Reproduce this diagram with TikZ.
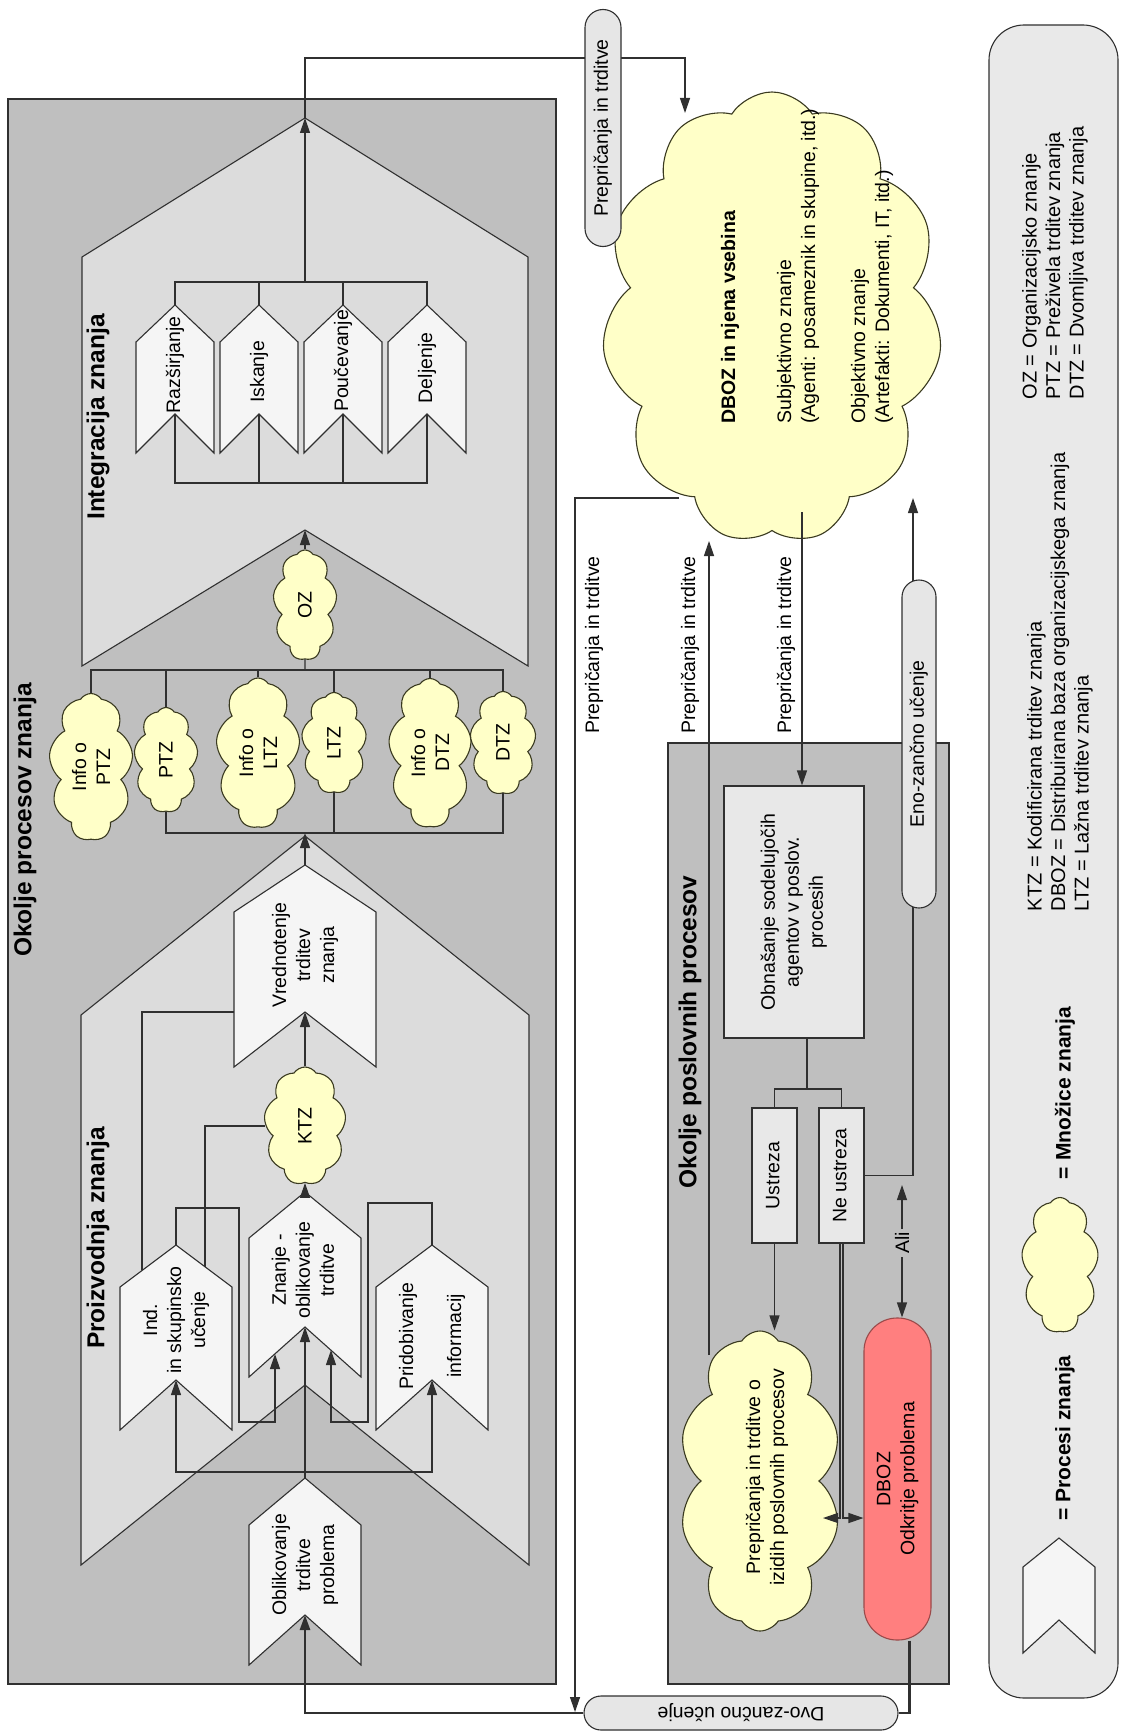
\documentclass[tikz,border=0pt]{standalone}
\usepackage{fontspec}
\setmainfont{Liberation Sans}
\usetikzlibrary{shapes.symbols,arrows.meta,calc}

\definecolor{okgrey}{HTML}{BFBFBF}
\definecolor{chevgrey}{HTML}{DCDCDC}
\definecolor{chevwhite}{HTML}{F5F5F5}
\definecolor{boxlight}{HTML}{E8E8E8}
\definecolor{pillgrey}{HTML}{E6E6E6}
\definecolor{legendgrey}{HTML}{E9E9E9}
\definecolor{cloudfill}{HTML}{FFFFC8}
\definecolor{cloudline}{HTML}{3A3A20}
\definecolor{alarmred}{HTML}{FF7F7F}
\definecolor{alarmline}{HTML}{9A4A4A}
\definecolor{ink}{HTML}{303030}

% rotated multi-line text for box contents
\newcommand{\rtxt}[1]{\rotatebox{90}{\begin{tabular}{@{}c@{}}#1\end{tabular}}}

% chevron: name, style, centre x, half width, y peak, y shoulder, y notch, y bottom
\newcommand{\chev}[8]{%
  \filldraw[#2] ({#3},{#5}) -- ({#3+#4},{#6}) -- ({#3+#4},{#8}) -- ({#3},{#7})
    -- ({#3-#4},{#8}) -- ({#3-#4},{#6}) -- cycle;
  \coordinate (#1-peak) at ({#3},{#5});
  \coordinate (#1-notch) at ({#3},{#7});
}

\tikzset{
  txt/.style={font=\fontsize{19.5}{24}\selectfont, inner sep=0pt},
  rlab/.style={txt, rotate=90, align=center},
  rlabl/.style={txt, rotate=90, align=left},
  bigtitle/.style={rotate=90, inner sep=0pt, font=\fontsize{24.5}{29}\selectfont\bfseries},
  region/.style={fill=okgrey, draw=ink, line width=1.2pt},
  chevbig/.style={fill=chevgrey, draw=ink, line width=1.1pt},
  chevw/.style={fill=chevwhite, draw=ink, line width=1.1pt},
  cloudy/.style={cloud, cloud puffs=#1, cloud puff arc=115, cloud ignores aspect,
    draw=cloudline, fill=cloudfill, line width=1.1pt, inner sep=0pt},
  cloudy/.default=9,
  box/.style={txt, draw=ink, line width=1.2pt, fill=boxlight},
  pill/.style={txt, draw=ink, line width=1.1pt, fill=pillgrey, rounded corners=#1},
  conn/.style={draw=ink, line width=1.2pt},
  arr/.style={conn, -{Triangle[length=15pt,width=10pt]}},
  arrs/.style={conn, {Triangle[length=15pt,width=10pt]}-{Triangle[length=15pt,width=10pt]}},
  heavy/.style={draw=ink, line width=2.6pt},
  heavyarr/.style={heavy, -{Triangle[length=15pt,width=10pt]}},
}

\begin{document}
\begin{tikzpicture}[x=1pt,y=-1pt]
\useasboundingbox (0,0) rectangle (1127,1731);
\fill[white] (0,0) rectangle (1127,1731);

% ---------- regions ----------
\filldraw[region] (8,99) rectangle (556,1684);
\filldraw[region] (668,743) rectangle (949,1684);
\filldraw[fill=legendgrey, draw=ink, line width=1.1pt, rounded corners=35pt] (989,25) rectangle (1118,1698);

% ---------- large chevrons ----------
\chev{integ}{chevbig}{305}{223}{118}{257}{530}{666}
\chev{proiz}{chevbig}{305}{224}{836}{1015}{1385}{1565}

% ---------- integration processes ----------
\chev{raz}{chevw}{175}{39}{305}{342}{414}{453}
\chev{isk}{chevw}{259}{39}{305}{342}{414}{453}
\chev{pou}{chevw}{343}{39}{305}{342}{414}{453}
\chev{del}{chevw}{427}{39}{305}{342}{414}{453}

% ---------- production processes ----------
\chev{vred}{chevw}{305}{71}{865}{912}{1012}{1067}
\chev{ind}{chevw}{176}{56}{1245}{1287}{1380}{1430}
\chev{znan}{chevw}{305}{56}{1192}{1238}{1327}{1377}
\chev{prid}{chevw}{432}{56}{1245}{1287}{1380}{1430}
\chev{oblik}{chevw}{305}{56}{1478}{1525}{1615}{1665}

% ---------- knowledge sets ----------
\node[cloudy, minimum width=64pt, minimum height=110pt] (oz) at (305,605) {};
\node[cloudy, minimum width=84pt, minimum height=147pt] (iptz) at (91,767) {};
\node[cloudy, minimum width=64pt, minimum height=105pt] (ptz) at (166,760) {};
\node[cloudy, minimum width=84pt, minimum height=150pt] (iltz) at (258,753) {};
\node[cloudy, minimum width=65pt, minimum height=101pt] (ltz) at (334,743) {};
\node[cloudy, minimum width=83pt, minimum height=149pt] (idtz) at (430,753) {};
\node[cloudy, minimum width=66pt, minimum height=103pt] (dtz) at (503,743) {};
\node[cloudy, minimum width=82pt, minimum height=118pt] (ktz) at (305,1126) {};
\node[cloudy=11, minimum width=340pt, minimum height=452pt] (dboz) at (772,318) {};
\node[cloudy=10, minimum width=162pt, minimum height=300pt] (prep) at (760,1481) {};
\node[cloudy, minimum width=77pt, minimum height=135pt] (legcloud) at (1060,1265) {};

% ---------- business process boxes ----------
\node[box, minimum width=140pt, minimum height=252pt] (obn) at (794,912)
  {\rtxt{Obnašanje sodelujočih\\agentov v poslov.\\procesih}};
\node[box, minimum width=45pt, minimum height=135pt] (ustr) at (774.5,1175.5) {\rtxt{Ustreza}};
\node[box, minimum width=45pt, minimum height=135pt] (neus) at (841.5,1175.5) {\rtxt{Ne ustreza}};
\node[txt, draw=alarmline, fill=alarmred, line width=1.1pt, rounded corners=33pt,
  minimum width=67pt, minimum height=322pt] (odkr) at (897.5,1479) {\rtxt{DBOZ\\Odkritje problema}};
\node[pill=17pt, minimum width=314pt, minimum height=34pt] (dvo) at (741,1713)
  {\rotatebox{180}{Dvo-zančno učenje}};

% ---------- connectors: integration ----------
\coordinate (ibar) at (305,282);
\coordinate (ibarb) at (305,483);
\draw[conn] (raz-peak) |- (ibar) -| (del-peak);
\draw[conn] (isk-peak) -- (isk-peak |- ibar);
\draw[conn] (pou-peak) -- (pou-peak |- ibar);
\draw[arr] (ibar) -- (integ-peak);
\draw[conn] (raz-notch) |- (ibarb) -| (del-notch);
\draw[conn] (isk-notch) -- (isk-notch |- ibarb);
\draw[conn] (pou-notch) -- (pou-notch |- ibarb);
\draw[arr] (oz.north) -- (integ-notch);

% ---------- connectors: knowledge sets ----------
\coordinate (cbar) at (305,670);
\coordinate (cbarb) at (305,833);
\draw[conn] (iptz.north) |- (cbar) -| (dtz.north);
\draw[conn] (ptz.north) -- (ptz.north |- cbar);
\draw[conn] (iltz.north) -- (iltz.north |- cbar);
\draw[conn] (ltz.north) -- (ltz.north |- cbar);
\draw[conn] (idtz.north) -- (idtz.north |- cbar);
\draw[conn] (cbar) -- (oz.south);
\draw[conn] (ptz.south) |- (cbarb) -| (dtz.south);
\draw[conn] (ltz.south) -- (ltz.south |- cbarb);
\draw[arr] (vred-peak) -- (cbarb);

% ---------- connectors: production ----------
\draw[arr] (znan-peak) -- (ktz.south);
\draw[arr] (ktz.north) -- (vred-notch);
\coordinate (indK) at (205,1267);
\draw[conn] (indK) |- (ktz.west);
\coordinate (indV) at (142,1270);
\coordinate (vredL) at (234,1012);
\draw[conn] (indV) |- (vredL);
\coordinate (znanL) at (275,1354);
\coordinate (znanR) at (331,1350);
\draw[arr] (ind-peak) |- (239,1208) -- (239,1422) -| (znanL);
\draw[arr] (prid-peak) |- (368,1203) -- (368,1422) -| (znanR);
\coordinate (pbar) at (305,1472);
\draw[conn] (oblik-peak) -- (pbar);
\draw[arr] (pbar) -- (znan-notch);
\draw[arr] (pbar) -| (ind-notch);
\draw[arr] (pbar) -| (prid-notch);

% ---------- double loop ----------
\draw[heavyarr] (dvo.west) -| (oblik-notch);
\draw[heavy] ([xshift=12pt]odkr.south) |- (dvo.east);

% ---------- connectors around the distributed base ----------
\coordinate (dbozT) at (685,113);
\coordinate (dbozD) at (679,498);
\coordinate (dbozB) at (709,541);
\coordinate (dbozC) at (802,512);
\coordinate (dbozA) at (913,498);
\coordinate (dvoJ) at (575,1712);
\coordinate (prepT) at (709,1355);
\coordinate (prepR) at (823,1518);
\draw[arr] (integ-peak) |- (685,58) -- (dbozT);
\draw[arr] (dbozD) -| (dvoJ);
\draw[arr] (prepT) -- (dbozB);
\draw[arr] (dbozC) -- (dbozC |- obn.north);
\coordinate (obar) at (807,1089);
\draw[conn] ([xshift=13pt]obn.south) -- (obar);
\draw[conn] (ustr.north) |- (obar) -| (neus.north);
\draw[arr] (ustr.south) -- (ustr.south |- prep.north);
\draw[arr] ([xshift=-1.5pt]neus.south) |- (prepR);
\draw[arr] ([xshift=1.5pt]neus.south) |- (odkr.west |- prepR);
\draw[arr] (neus.east) -| (dbozA);
\coordinate (aliT) at (902,1185);
\draw[arrs] (aliT) -- (aliT |- odkr.north);

% ---------- pills sitting on connectors ----------
\node[pill=18pt, minimum width=36pt, minimum height=237pt] (pillA) at (603,128) {\rtxt{Prepričanja in trditve}};
\node[pill=17pt, minimum width=34pt, minimum height=328pt] (eno) at (919,744) {\rtxt{Eno-zančno učenje}};
\node[rlab, fill=okgrey, inner sep=3pt] (ali) at (902,1243) {Ali};

% ---------- connector labels ----------
\node[rlab] (lab1) at (594,645) {Prepričanja in trditve};
\node[rlab] (lab2) at (690,645) {Prepričanja in trditve};
\node[rlab] (lab3) at (786,645) {Prepričanja in trditve};

% ---------- titles ----------
\node[bigtitle] (t-okolje) at (25,820) {Okolje procesov znanja};
\node[bigtitle] (t-integ) at (98,417) {Integracija znanja};
\node[bigtitle] (t-proiz) at (98,1238) {Proizvodnja znanja};
\node[bigtitle] (t-posl) at (690,1032) {Okolje poslovnih procesov};

% ---------- process texts ----------
\node[rlab] (raz-t) at (175,365) {Razširjanje};
\node[rlab] (isk-t) at (259,372) {Iskanje};
\node[rlab] (pou-t) at (343,361) {Poučevanje};
\node[rlab] (del-t) at (427,368) {Deljenje};
\node[rlab] (vred-t) at (305,955) {Vrednotenje\\trditev\\znanja};
\node[rlab] (ind-t) at (176,1320) {Ind.\\in skupinsko\\učenje};
\node[rlab] (znan-t) at (303,1270) {Znanje -\\oblikovanje\\trditve};
\node[rlab] (prid-t) at (432,1336) {Pridobivanje\\[24pt]informacij};
\node[rlab] (oblik-t) at (305,1565) {Oblikovanje\\trditve\\problema};

% ---------- set texts ----------
\node[rlab] (oz-t) at (oz) {OZ};
\node[rlab] (iptz-t) at (iptz) {Info o\\PTZ};
\node[rlab] (ptz-t) at (ptz) {PTZ};
\node[rlab] (iltz-t) at (iltz) {Info o\\LTZ};
\node[rlab] (ltz-t) at (ltz) {LTZ};
\node[rlab] (idtz-t) at (idtz) {Info o\\DTZ};
\node[rlab] (dtz-t) at (dtz) {DTZ};
\node[rlab] (ktz-t) at (ktz) {KTZ};
\node[rlab] (prep-t) at (767,1477) {Prepričanja in trditve o\\izidih poslovnih procesov};
\node[rlabl] (dboz-t) at (807,266) {\textbf{DBOZ in njena vsebina}\\[32pt]Subjektivno znanje\\(Agenti: posameznik in skupine, itd.)\\[26pt]Objektivno znanje\\(Artefakti: Dokumenti, IT, itd.)};

% ---------- legend ----------
\chev{legchev}{chevw}{1059}{36}{1538}{1567}{1620}{1653}
\node[rlabl, font=\fontsize{20}{23.5}\selectfont] (leg1) at (1055,263)
  {OZ = Organizacijsko znanje\\PTZ = Preživela trditev znanja\\DTZ = Dvomljiva trditev znanja};
\node[rlabl, font=\fontsize{20}{23.5}\selectfont] (leg2) at (1060,682)
  {KTZ = Kodificirana trditev znanja\\DBOZ = Distribuirana baza organizacijskega znanja\\LTZ = Lažna trditev znanja};
\node[rlab, font=\fontsize{21}{25}\selectfont\bfseries] (leg3) at (1065,1093) {= Množice znanja};
\node[rlab, font=\fontsize{21}{25}\selectfont\bfseries] (leg4) at (1065,1438) {= Procesi znanja};
\end{tikzpicture}
\end{document}
